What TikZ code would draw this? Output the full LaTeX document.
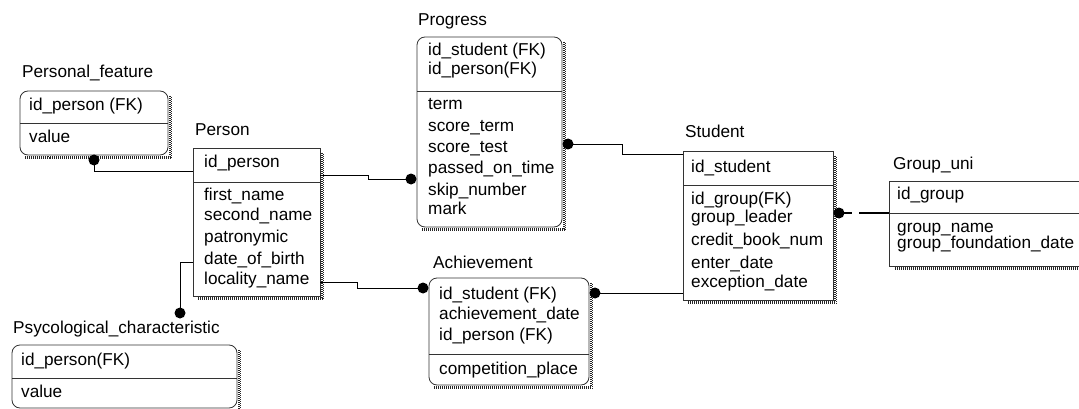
\documentclass[tikz,border=0pt]{standalone}
\usepackage{fontspec}
\setmainfont{Liberation Sans}
\usetikzlibrary{calc}
\newcommand\entshadow[1]{%
  \draw[shd] ($(#1.north east)+(1.75,5)$) -- ($(#1.south east)+(1.75,1.75)$) -- ($(#1.south west)+(5,1.75)$);
  \draw[shd,dash phase=1pt] ($(#1.north east)+(3.25,5)$) -- ($(#1.south east)+(3.25,3.25)$) -- ($(#1.south west)+(5,3.25)$);}
\begin{document}
\begin{tikzpicture}[x=1pt,y=-1pt,
  ent/.style={draw=black!80, line width=0.8pt, inner sep=0pt, outer sep=0pt, anchor=north west},
  rent/.style={ent, rounded corners=8pt},
  shd/.style={line width=1.5pt, dash pattern=on 1pt off 1pt, black!85},
  fld/.style={anchor=west, inner sep=0pt, text height=0.72em, text depth=0.21em, font=\fontsize{17.2}{20}\selectfont},
  div/.style={draw=black!80, line width=0.8pt},
  rel/.style={draw=black, line width=0.8pt},
  dotend/.style={circle, fill=black, inner sep=0pt, minimum size=11pt}]
\useasboundingbox (0,0) rectangle (1079,409);
\clip (0,0) rectangle (1079,409);
\fill[white] (0,0) rectangle (1079,409);

% ---------- Personal_feature
\node[fld] (pft) at (22,75) {Personal\_feature};
\node[rent, minimum width=148pt, minimum height=64pt] (pf) at (20,91) {};
\entshadow{pf}
\draw[div] (pf.west |- 0,123) -- (pf.east |- 0,123);
\node[fld] (pf1) at (29,108) {id\_person (FK)};
\node[fld] (pf2) at (29,140) {value};

% ---------- Person
\node[fld] (pet) at (195,133) {Person};
\node[ent, minimum width=127pt, minimum height=148pt] (person) at (193,148) {};
\entshadow{person}
\draw[div] (person.west |- 0,182) -- (person.east |- 0,182);
\node[fld] (pe1) at (204,165) {id\_person};
\node[fld] (pe2) at (204,198) {first\_name};
\node[fld] (pe3) at (204,218) {second\_name};
\node[fld] (pe4) at (204,240) {patronymic};
\node[fld] (pe5) at (204,262) {date\_of\_birth};
\node[fld] (pe6) at (204,282) {locality\_name};

% ---------- Psycological_characteristic
\node[fld] (pst) at (13,331) {Psycological\_characteristic};
\node[rent, minimum width=225pt, minimum height=63pt] (psy) at (12,345) {};
\entshadow{psy}
\draw[div] (psy.west |- 0,378) -- (psy.east |- 0,378);
\node[fld] (ps1) at (21,363) {id\_person(FK)};
\node[fld] (ps2) at (21,395) {value};

% ---------- Progress
\node[fld] (prt) at (418,23) {Progress};
\node[rent, minimum width=145pt, minimum height=190pt] (prog) at (417,37) {};
\entshadow{prog}
\draw[div] (prog.west |- 0,91) -- (prog.east |- 0,91);
\node[fld] (pr1) at (428,53) {id\_student (FK)};
\node[fld] (pr2) at (428,72) {id\_person(FK)};
\node[fld] (pr3) at (428,107) {term};
\node[fld] (pr4) at (428,129) {score\_term};
\node[fld] (pr5) at (428,150) {score\_test};
\node[fld] (pr6) at (428,171) {passed\_on\_time};
\node[fld] (pr7) at (428,193) {skip\_number};
\node[fld] (pr8) at (428,212) {mark};

% ---------- Achievement
\node[fld] (act) at (433,266) {Achievement};
\node[rent, minimum width=160pt, minimum height=107pt] (ach) at (429,278) {};
\entshadow{ach}
\draw[div] (ach.west |- 0,354) -- (ach.east |- 0,354);
\node[fld] (ac1) at (439,297) {id\_student (FK)};
\node[fld] (ac2) at (439,317) {achievement\_date};
\node[fld] (ac3) at (439,338) {id\_person (FK)};
\node[fld] (ac4) at (439,372) {competition\_place};

% ---------- Student
\node[fld] (stt) at (685,135) {Student};
\node[ent, minimum width=150pt, minimum height=149pt] (stud) at (683,151) {};
\entshadow{stud}
\draw[div] (stud.west |- 0,185) -- (stud.east |- 0,185);
\node[fld] (st1) at (691,170) {id\_student};
\node[fld] (st2) at (691,202) {id\_group(FK)};
\node[fld] (st3) at (691,220) {group\_leader};
\node[fld] (st4) at (691,243) {credit\_book\_num};
\node[fld] (st5) at (691,266) {enter\_date};
\node[fld] (st6) at (691,285) {exception\_date};

% ---------- Group_uni
\node[fld] (gut) at (893,167) {Group\_uni};
\node[ent, minimum width=205pt, minimum height=85pt] (grp) at (889,181) {};
\entshadow{grp}
\draw[div] (grp.west |- 0,213) -- (grp.east |- 0,213);
\node[fld] (gu1) at (897,197) {id\_group};
\node[fld] (gu2) at (897,230) {group\_name};
\node[fld] (gu3) at (897,246) {group\_foundation\_date};

% ---------- relationships
\node[dotend] (d1) at (94,160) {};
\draw[rel] (d1.center) -- (94,171) -- (person.west |- 0,171);

\node[dotend] (d2) at (180,313) {};
\draw[rel] (person.west |- 0,262) -- (180,262) -- (d2.center);

\node[dotend] (d3) at (411,179) {};
\draw[rel] (person.east |- 0,175) -- (368,175) -- (368,179) -- (d3.center);

\node[dotend] (d4) at (568,144) {};
\draw[rel] (d4.center) -- (622,144) -- (622,154) -- (stud.west |- 0,154);

\node[dotend] (d5) at (423,288) {};
\draw[rel] (person.east |- 0,282) -- (357,282) -- (357,288) -- (d5.center);

\node[dotend] (d6) at (595,293) {};
\draw[rel] (d6.center) -- (stud.west |- 0,293);

\node[dotend] (d7) at (839,213) {};
\coordinate (g1) at (852,213);
\coordinate (g2) at (859,213);
\draw[line width=2.2pt] (d7.center) -- (g1);
\draw[line width=2.2pt] (g2) -- (grp.west |- 0,213);
\end{tikzpicture}
\end{document}
